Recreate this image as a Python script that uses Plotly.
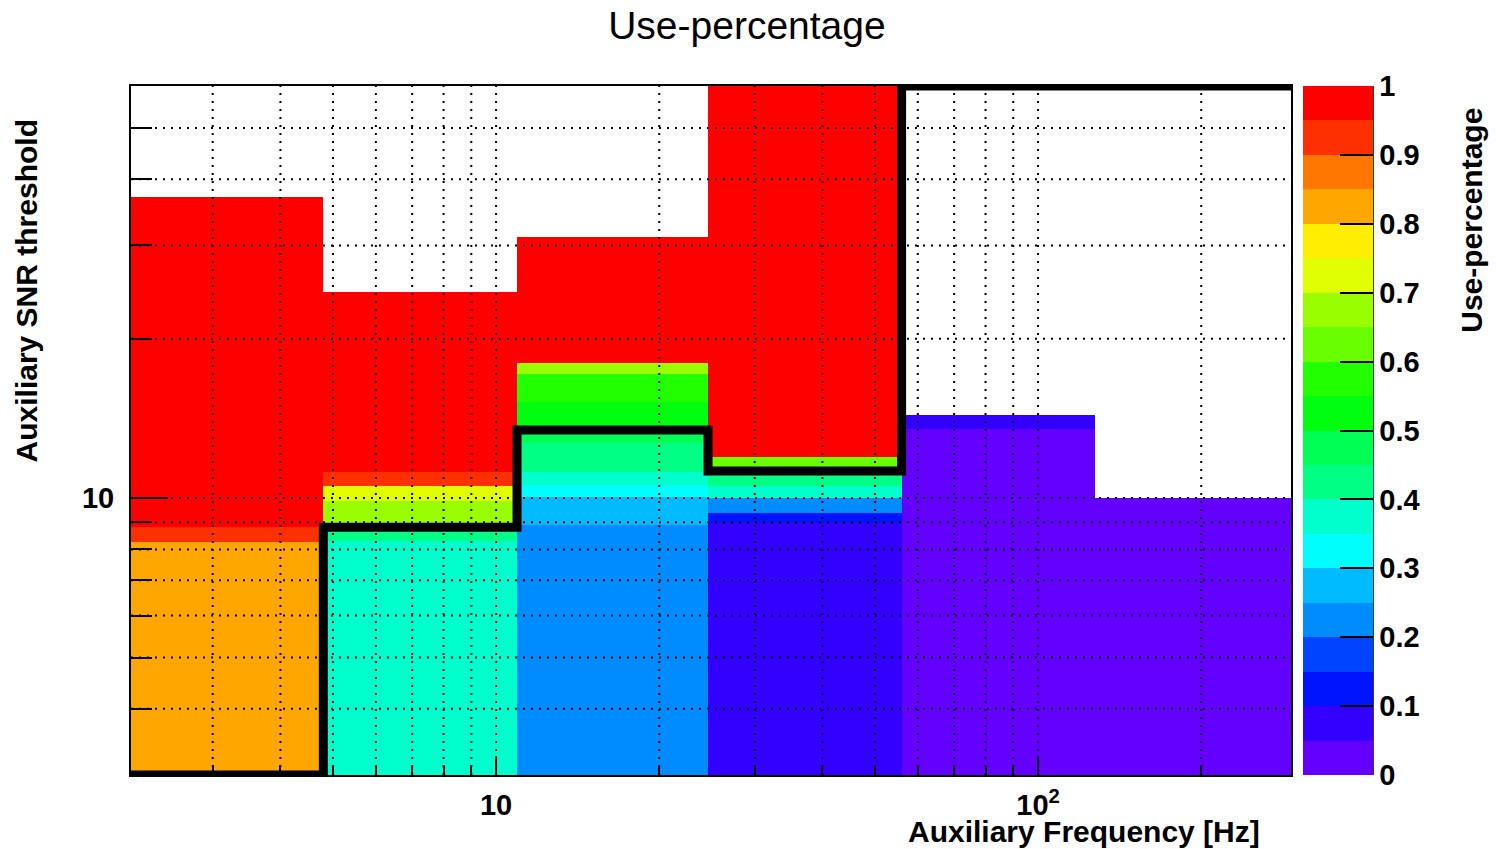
import math
import plotly.graph_objects as go

# ---------------- data ----------------
# Auxiliary frequency bin edges [Hz]
freq_edges = [2.12, 4.80, 10.93, 24.61, 56.0, 127.4, 292.9]

# For each frequency bin: SNR band edges (bottom -> top) and use-percentage of each band
snr_edges_bin1 = [3.0, 8.27, 8.80, 36.98]
use_pct_bin1 = [0.825, 0.925, 0.975]

snr_edges_bin2 = [3.0, 8.285, 8.81, 9.854, 10.56, 11.22, 24.50]
use_pct_bin2 = [0.375, 0.425, 0.675, 0.725, 0.925, 0.975]

snr_edges_bin3 = [3.0, 8.905, 10.03, 10.59, 11.22, 12.69, 13.45, 15.20, 17.19, 17.99, 31.18]
use_pct_bin3 = [0.225, 0.275, 0.325, 0.375, 0.425, 0.475, 0.525, 0.575, 0.675, 0.975]

snr_edges_bin4 = [3.0, 8.965, 9.37, 10.0, 10.52, 11.255, 11.94, 60.0]
use_pct_bin4 = [0.075, 0.125, 0.225, 0.375, 0.425, 0.625, 0.975]

snr_edges_bin5 = [3.0, 13.49, 14.35]
use_pct_bin5 = [0.025, 0.075]

snr_edges_bin6 = [3.0, 10.0]
use_pct_bin6 = [0.025]

# Selected SNR threshold per frequency bin (black step line)
snr_threshold = [3.0, 8.81, 13.45, 11.255, 60.0, 60.0]

# Axis tick labels
x_major_vals = [10, 100]
x_major_text = ["10", "10<sup>2</sup>"]
x_minor_vals = [3, 4, 5, 6, 7, 8, 9, 20, 30, 40, 50, 60, 70, 80, 90, 200]
y_major_vals = [10]
y_major_text = ["10"]
y_minor_vals = [4, 5, 6, 7, 8, 9, 20, 30, 40, 50]
z_tick_vals = [0.0, 0.1, 0.2, 0.3, 0.4, 0.5, 0.6, 0.7, 0.8, 0.9, 1.0]
z_tick_text = ["0", "0.1", "0.2", "0.3", "0.4", "0.5", "0.6", "0.7", "0.8", "0.9", "1"]

x_range = [2.12, 292.9]
y_range = [3.0, 60.0]

# ---------------- style ----------------
palette = [
    (99, 0, 255), (51, 0, 255), (0, 20, 255), (0, 68, 255), (0, 139, 255),
    (0, 187, 255), (0, 255, 252), (0, 255, 204), (0, 255, 133), (0, 255, 85),
    (0, 255, 14), (34, 255, 0), (105, 255, 0), (153, 255, 0), (224, 255, 0),
    (255, 238, 0), (255, 167, 0), (255, 119, 0), (255, 48, 0), (255, 0, 0),
]
ncont = len(palette)
colorscale = []
for k, (r, g, b) in enumerate(palette):
    c = f"rgb({r},{g},{b})"
    colorscale.append([k / ncont, c])
    colorscale.append([(k + 1) / ncont, c])

FONT = "Liberation Sans, Arial, Helvetica, sans-serif"

# ---------------- build the 2D grid ----------------
bins = [
    (snr_edges_bin1, use_pct_bin1),
    (snr_edges_bin2, use_pct_bin2),
    (snr_edges_bin3, use_pct_bin3),
    (snr_edges_bin4, use_pct_bin4),
    (snr_edges_bin5, use_pct_bin5),
    (snr_edges_bin6, use_pct_bin6),
]
y_edges = sorted({e for edges, _ in bins for e in edges} | set(y_range))
z = []
for j in range(len(y_edges) - 1):
    mid = math.sqrt(y_edges[j] * y_edges[j + 1])
    row = []
    for edges, vals in bins:
        v = None
        for b in range(len(vals)):
            if edges[b] <= mid < edges[b + 1]:
                v = vals[b]
                break
        row.append(v)
    z.append(row)

fig = go.Figure()
fig.add_trace(go.Heatmap(
    x=freq_edges, y=y_edges, z=z,
    zmin=0, zmax=1, colorscale=colorscale, zsmooth=False,
    hoverinfo="skip",
    colorbar=dict(
        x=1.0103, xanchor="left", xpad=0, ypad=0,
        y=0.5, yanchor="middle", len=1, lenmode="fraction",
        thickness=70, outlinewidth=0,
        tickmode="array", tickvals=z_tick_vals, ticktext=z_tick_text,
        ticks="inside", ticklen=33, tickwidth=2, tickcolor="black",
        tickfont=dict(family=FONT, size=29, color="black", weight="bold"),
    ),
))

fig.add_trace(go.Scatter(
    x=freq_edges, y=snr_threshold + [snr_threshold[-1]],
    mode="lines", line=dict(color="black", width=9, shape="hv"),
    hoverinfo="skip", showlegend=False,
))

shapes = []
for xv in x_minor_vals[:7] + [10] + x_minor_vals[7:15] + [100] + x_minor_vals[15:]:
    shapes.append(dict(type="line", xref="x", yref="paper", x0=xv, x1=xv, y0=0, y1=1,
                       line=dict(color="black", width=2, dash="2px,6px"), layer="above"))
for yv in y_minor_vals[:6] + [10] + y_minor_vals[6:]:
    shapes.append(dict(type="line", xref="paper", yref="y", x0=0, x1=1, y0=yv, y1=yv,
                       line=dict(color="black", width=2, dash="2px,6px"), layer="above"))
shapes.append(dict(type="line", xref="paper", yref="paper", x0=1.0707, x1=1.0707, y0=0, y1=1,
                   line=dict(color="black", width=1.5), layer="above"))

axis_common = dict(
    type="log", showgrid=False, zeroline=False, showline=True, mirror=True,
    linecolor="black", linewidth=2, ticks="inside", tickwidth=2, tickcolor="black",
    tickfont=dict(family=FONT, size=29, color="black", weight="bold"),
    layer="above traces", tickmode="array",
)
fig.update_layout(
    width=1496, height=849,
    margin=dict(l=131, r=205, t=86, b=74),
    paper_bgcolor="white", plot_bgcolor="white",
    title=dict(text="Use-percentage", x=0.4993, xanchor="center", y=0.9706, yanchor="middle",
               xref="container", yref="container",
               font=dict(family=FONT, size=39, color="black")),
    xaxis=dict(axis_common, range=[math.log10(x_range[0]), math.log10(x_range[1])],
               tickvals=x_major_vals, ticktext=x_major_text, ticklen=19,
               ticklabelstandoff=3,
               minor=dict(tickmode="array", tickvals=x_minor_vals, ticks="inside", ticklen=10,
                          tickwidth=2, tickcolor="black", showgrid=False)),
    yaxis=dict(axis_common, range=[math.log10(y_range[0]), math.log10(y_range[1])],
               tickvals=y_major_vals, ticktext=y_major_text, ticklen=37,
               ticklabelstandoff=9,
               minor=dict(tickmode="array", tickvals=y_minor_vals, ticks="inside", ticklen=21,
                          tickwidth=2, tickcolor="black", showgrid=False)),
    shapes=shapes,
    showlegend=False,
    annotations=[
        dict(text="Auxiliary Frequency [Hz]", xref="paper", yref="paper", x=0.975, y=-0.0827,
             xanchor="right", yanchor="middle", showarrow=False,
             font=dict(family=FONT, size=30, color="black", weight="bold")),
        dict(text="Auxiliary SNR threshold", xref="paper", yref="paper", x=-0.0897, y=0.955,
             xanchor="center", yanchor="top", textangle=-90, showarrow=False,
             font=dict(family=FONT, size=30, color="black", weight="bold")),
        dict(text="Use-percentage", xref="paper", yref="paper", x=1.156, y=0.972,
             xanchor="center", yanchor="top", textangle=-90, showarrow=False,
             font=dict(family=FONT, size=30, color="black", weight="bold")),
    ],
)

fig.write_html("out.html")
